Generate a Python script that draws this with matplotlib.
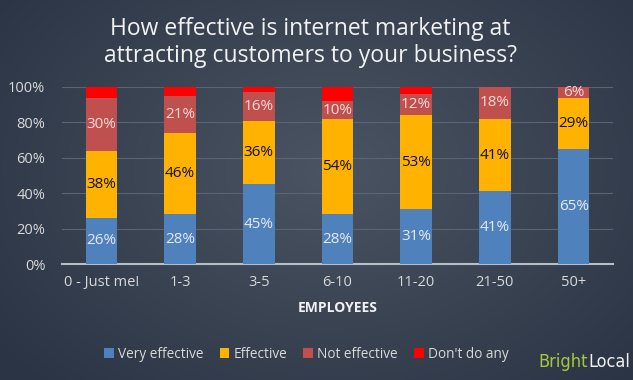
import numpy as np
import matplotlib
matplotlib.use("Agg")
import matplotlib.pyplot as plt

categories = ["0 - Just me!", "1-3", "3-5", "6-10", "11-20", "21-50", "50+"]
very_effective = [26, 28, 45, 28, 31, 41, 65]
effective = [38, 46, 36, 54, 53, 41, 29]
not_effective = [30, 21, 16, 10, 12, 18, 6]
dont_do_any = [6, 5, 3, 8, 4, 0, 0]
series_names = ["Very effective", "Effective", "Not effective", "Don't do any"]
yticks = [0, 20, 40, 60, 80, 100]

COLORS = ["#4f81bd", "#ffb300", "#c0504d", "#ff0000"]
LABEL_COLORS = ["#e6e9f0", "#111111", "#f2dada", None]
FONT = ["Open Sans", "DejaVu Sans"]
plt.rcParams["font.family"] = FONT

fig = plt.figure(figsize=(6.33, 3.8), dpi=100)

# radial background gradient
bg = fig.add_axes([0, 0, 1, 1])
yy, xx = np.mgrid[0:380, 0:633]
r = np.sqrt(((xx - 330) / 420.0) ** 2 + ((yy - 170) / 300.0) ** 2)
r = np.clip(r, 0, 1)
c0 = np.array([0x4a, 0x54, 0x62]) / 255
c1 = np.array([0x2a, 0x34, 0x44]) / 255
img = c0[None, None, :] * (1 - r[..., None]) + c1[None, None, :] * r[..., None]
bg.imshow(img, aspect="auto", extent=[0, 1, 0, 1])
bg.set_axis_off()

ax = fig.add_axes([62 / 633, 1 - 264 / 380, 551 / 633, 177 / 380])
ax.patch.set_alpha(0)
x = np.arange(len(categories))
bottom = np.zeros(len(categories))
series = [very_effective, effective, not_effective, dont_do_any]
for vals, name, col, lc in zip(series, series_names, COLORS, LABEL_COLORS):
    vals = np.array(vals, dtype=float)
    ax.bar(x, vals, 0.4, bottom=bottom, color=col, label=name, zorder=3)
    if lc is not None:
        for xi, b, v in zip(x, bottom, vals):
            if v > 0:
                ax.text(xi, b + v / 2, f"{int(v)}%", ha="center", va="center",
                        color=lc, fontsize=11, zorder=4)
    bottom += vals

ax.set_xlim(-0.5, len(categories) - 0.5)
ax.set_ylim(0, 100)
ax.set_yticks(yticks)
ax.set_yticklabels([f"{t}%" for t in yticks])
ax.set_xticks(x)
ax.set_xticklabels(categories)
ax.tick_params(colors="#d9d9d9", labelsize=10.5, length=0)
ax.tick_params(axis="x", pad=8)
ax.tick_params(axis="y", pad=12)
ax.grid(axis="y", color="#5a6473", lw=0.8, zorder=0)
for s in ["top", "right", "left"]:
    ax.spines[s].set_visible(False)
ax.spines["bottom"].set_color("#b8bec8")
ax.spines["bottom"].set_linewidth(1.5)
ax.set_xlabel("EMPLOYEES", color="#f2f2f2", fontweight="bold", fontsize=10, labelpad=8)

title_kw = dict(ha="center", va="center", color="#f2f2f2", fontsize=16.5)
fig.text(0.49, 1 - 29 / 380, "How effective is internet marketing at", **title_kw)
fig.text(0.49, 1 - 56 / 380, "attracting customers to your business?", **title_kw)

leg = fig.legend(loc="center", bbox_to_anchor=(0.484, 1 - 354 / 380), ncol=4, frameon=False,
                 fontsize=9.8, handlelength=0.7, handleheight=0.7, handletextpad=0.3,
                 columnspacing=1.2)
for t in leg.get_texts():
    t.set_color("#d9d9d9")

# BrightLocal logo, right-aligned at the bottom
logo_kw = dict(va="center", fontsize=13, family="DejaVu Sans", fontstretch="condensed")
local = fig.text(0.995, 1 - 362 / 380, "Local", ha="right", color="#f2f2f2", **logo_kw)
fig.canvas.draw()
x0 = local.get_window_extent().x0 / fig.bbox.width
fig.text(x0, 1 - 362 / 380, "Bright", ha="right", color="#a6c83c", **logo_kw)

fig.savefig("out.png", dpi=100)
